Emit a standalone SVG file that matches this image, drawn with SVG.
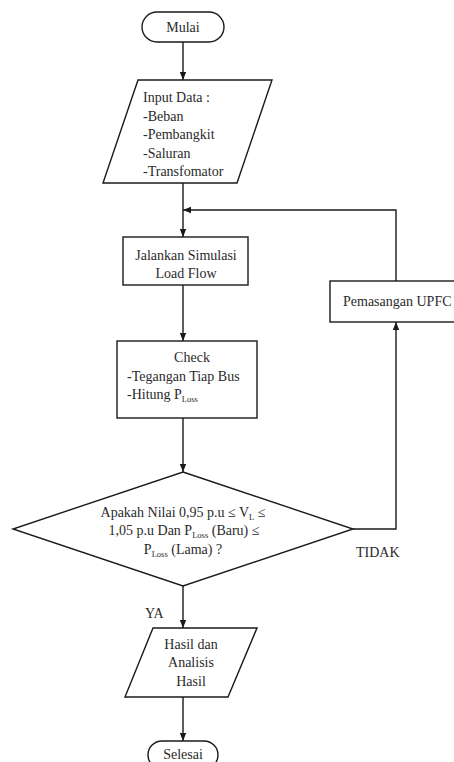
<svg xmlns="http://www.w3.org/2000/svg" width="454" height="762" viewBox="0 0 454 762" font-family="'Liberation Serif', 'Times New Roman', Times, serif">
<style>
.s{fill:#fff;stroke:#1a1a1a;stroke-width:1.4}
.c{fill:none;stroke:#1a1a1a;stroke-width:1.4}
text{font-family:'Liberation Serif','Times New Roman',Times,serif;font-size:14px;fill:#2a2a2a}
.m{text-anchor:middle}
.sub{font-size:8.5px}
</style>
<defs>
<marker id="ah" markerWidth="8" markerHeight="8" viewBox="0 0 8 8" refX="8" refY="4" orient="auto" markerUnits="userSpaceOnUse">
<path d="M0,0.8 L8,4 L0,7.2 Z" fill="#1a1a1a"/>
</marker>
</defs>
<rect width="454" height="762" fill="#fff"/>
<g id="connectors">
<line class="c" x1="183" y1="42" x2="183" y2="80" marker-end="url(#ah)"/>
<line class="c" x1="183" y1="183" x2="183" y2="237" marker-end="url(#ah)"/>
<polyline class="c" points="396,281 396,210 183,210" marker-end="url(#ah)"/>
<line class="c" x1="183" y1="285" x2="183" y2="341" marker-end="url(#ah)"/>
<line class="c" x1="183" y1="418" x2="183" y2="472" marker-end="url(#ah)"/>
<polyline class="c" points="353,529 396,529 396,322" marker-end="url(#ah)"/>
<line class="c" x1="183" y1="586" x2="183" y2="628" marker-end="url(#ah)"/>
<line class="c" x1="183" y1="697" x2="183" y2="741" marker-end="url(#ah)"/>
<text x="356" y="557">TIDAK</text>
<text x="145" y="618">YA</text>
</g>
<g id="mulai">
<rect class="s" x="142" y="12" width="82" height="30" rx="15"/>
<text class="m" x="183" y="32">Mulai</text>
</g>
<g id="input">
<polygon class="s" points="138,80 272,80 237,183 103,183"/>
<text x="143" y="102">Input Data :</text>
<text x="143" y="121">-Beban</text>
<text x="143" y="139">-Pembangkit</text>
<text x="143" y="158">-Saluran</text>
<text x="143" y="176">-Transfomator</text>
</g>
<g id="simulasi">
<rect class="s" x="123" y="237" width="125" height="48"/>
<text class="m" x="186" y="260">Jalankan Simulasi</text>
<text class="m" x="186" y="278">Load Flow</text>
</g>
<g id="upfc">
<rect class="s" x="330" y="281" width="132" height="41"/>
<text x="343" y="306">Pemasangan UPFC</text>
</g>
<g id="check">
<rect class="s" x="117" y="341" width="140" height="77"/>
<text class="m" x="192" y="362">Check</text>
<text x="127" y="381">-Tegangan Tiap Bus</text>
<text x="127" y="399">-Hitung P<tspan class="sub" dy="3">Loss</tspan></text>
</g>
<g id="decision">
<polygon class="s" points="183,472 353,529 183,586 13,529"/>
<text class="m" x="183" y="517">Apakah Nilai 0,95 p.u ≤ V<tspan class="sub" dy="3">L</tspan><tspan dy="-3"> ≤</tspan></text>
<text class="m" x="184" y="535">1,05 p.u Dan P<tspan class="sub" dy="3">Loss</tspan><tspan dy="-3"> (Baru) ≤</tspan></text>
<text class="m" x="183" y="554">P<tspan class="sub" dy="3">Loss</tspan><tspan dy="-3"> (Lama) ?</tspan></text>
</g>
<g id="hasil">
<polygon class="s" points="153,628 257,628 228,697 125,697"/>
<text class="m" x="191" y="649">Hasil dan</text>
<text class="m" x="191" y="667">Analisis</text>
<text class="m" x="191" y="686">Hasil</text>
</g>
<g id="selesai">
<rect class="s" x="148" y="741" width="70" height="28" rx="14"/>
<text class="m" x="183" y="759">Selesai</text>
</g>
</svg>
